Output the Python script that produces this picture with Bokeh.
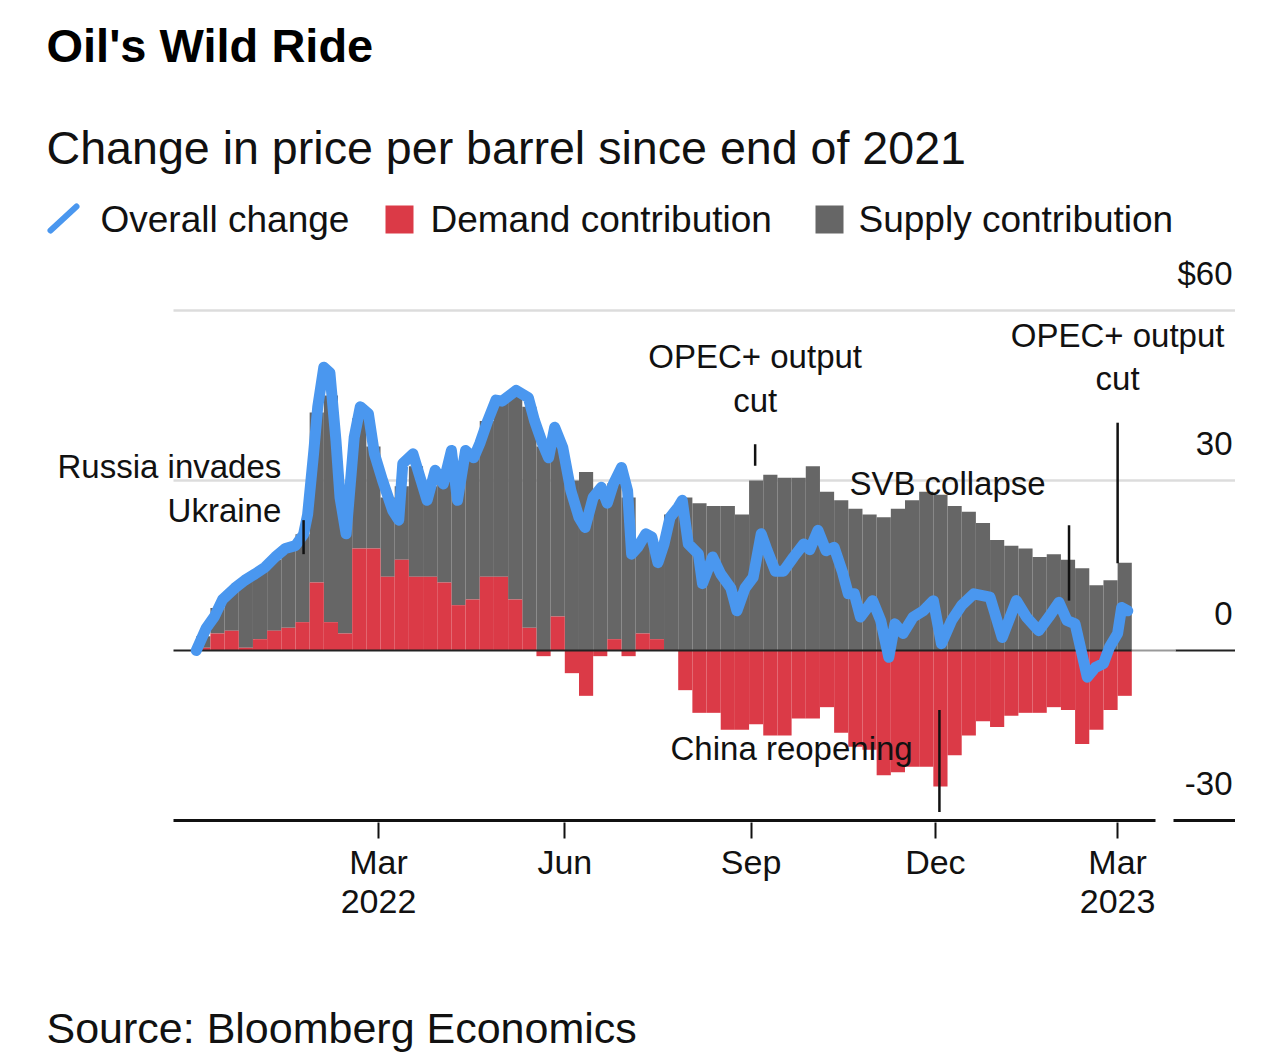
import pandas as pd
from bokeh.plotting import figure
from bokeh.layouts import column
from bokeh.models import Range1d, Label, LinearAxis, FixedTicker, ColumnDataSource
from bokeh.core.properties import value
from bokeh.embed import file_html
from bokeh.resources import INLINE

# ---------------- data ----------------
line_dates = [
    "2021-12-01", "2021-12-06", "2021-12-10", "2021-12-14", "2021-12-20", "2021-12-25",
    "2021-12-30", "2022-01-04", "2022-01-09", "2022-01-14", "2022-01-19", "2022-01-23",
    "2022-01-25", "2022-01-28", "2022-01-30", "2022-02-02", "2022-02-05", "2022-02-08",
    "2022-02-10", "2022-02-13", "2022-02-17", "2022-02-20", "2022-02-24", "2022-02-27",
    "2022-03-03", "2022-03-08", "2022-03-11", "2022-03-13", "2022-03-18", "2022-03-22",
    "2022-03-25", "2022-03-29", "2022-04-02", "2022-04-06", "2022-04-09", "2022-04-13",
    "2022-04-17", "2022-04-20", "2022-04-24", "2022-04-28", "2022-05-01", "2022-05-08",
    "2022-05-14", "2022-05-17", "2022-05-21", "2022-05-24", "2022-05-27", "2022-05-31",
    "2022-06-04", "2022-06-08", "2022-06-11", "2022-06-15", "2022-06-19", "2022-06-22",
    "2022-06-25", "2022-06-29", "2022-07-02", "2022-07-04", "2022-07-07", "2022-07-11",
    "2022-07-14", "2022-07-17", "2022-07-20", "2022-07-23", "2022-07-27", "2022-07-29",
    "2022-08-01", "2022-08-06", "2022-08-08", "2022-08-13", "2022-08-17", "2022-08-22",
    "2022-08-25", "2022-08-29", "2022-09-02", "2022-09-06", "2022-09-09", "2022-09-13",
    "2022-09-17", "2022-09-22", "2022-09-27", "2022-09-30", "2022-10-04", "2022-10-08",
    "2022-10-12", "2022-10-16", "2022-10-19", "2022-10-22", "2022-10-25", "2022-10-31",
    "2022-11-04", "2022-11-08", "2022-11-11", "2022-11-15", "2022-11-20", "2022-11-25",
    "2022-11-30", "2022-12-04", "2022-12-09", "2022-12-14", "2022-12-20", "2022-12-28",
    "2023-01-03", "2023-01-10", "2023-01-15", "2023-01-21", "2023-01-26", "2023-01-31",
    "2023-02-04", "2023-02-08", "2023-02-14", "2023-02-18", "2023-02-22", "2023-02-25",
    "2023-03-01", "2023-03-03", "2023-03-06",
]
overall = [
    0, 4, 6, 9, 11, 12.4,
    13.5, 14.7, 16.5, 18, 18.5, 20.5,
    24, 35, 43, 50, 49, 37,
    27, 20.6, 37.6, 43, 41.8, 34.7,
    30, 24.7, 23, 33, 34.7, 30,
    26.5, 31.8, 29.4, 35.3, 26.5, 35.3,
    34, 36.5, 40.6, 44.2, 44, 45.9,
    44.6, 40.6, 36.5, 34, 39.4, 35.8,
    28.2, 23.5, 21.7, 27, 28.8, 26,
    29.4, 32.3, 28.2, 17, 18.2, 20.6,
    20, 15.5, 18.8, 23.5, 25.3, 26.5,
    18.8, 17, 11.8, 16.5, 13.5, 11,
    7, 11, 12.9, 20.6, 17.6, 14,
    14, 16.5, 18.8, 17.8, 21.2, 17.6,
    18.2, 14, 10, 10, 5.9, 8.8,
    5.3, -1.2, 4.7, 3, 5.9, 7,
    8.8, 1.2, 5.3, 8, 10, 9.4,
    2.3, 8.8, 5.9, 3.5, 5.9, 8.5,
    5.3, 4.7, -4.7, -3, -2.3, 0.6,
    3, 7.6, 7,
]

# weekly contributions, one value per week starting 2021-12-01
bar_weeks = pd.date_range("2021-12-01", periods=66, freq="7D")
demand = [
    0.5, 3, 3.5, 0.5, 2, 3.5, 4, 5, 12, 5,
    3, 18, 18, 13, 16, 13, 13, 12, 8, 9,
    13, 13, 9, 4, -1, 6, -4, -8, -1, 2,
    -1, 3, 2, 0, -7, -11, -11, -14, -14, -13,
    -15, -15, -12, -12, -10, -14.5, -17, -17.5, -22, -21.5,
    -20.5, -20.5, -24, -18.5, -15, -12.5, -13.5, -11.5, -11, -11,
    -10, -10.5, -16.5, -14, -10.5, -8,
]
supply = [
    2, 4.5, 7, 12, 12, 12.5, 14, 15.5, 30, 40,
    24, 23, 18, 14, 13, 19.5, 16, 20, 22.5, 26,
    27.5, 31, 36.5, 39, 36, 31.5, 30, 31.5, 28.5, 27.5,
    27, 16.5, 16, 24, 27, 26, 25.5, 25.5, 24, 30,
    31, 30.5, 30.5, 32.5, 28, 26.5, 25, 24, 23.5, 25,
    26.5, 28, 27.5, 25.5, 24.5, 22.5, 19.5, 18.5, 18, 16.5,
    17, 16, 14.5, 11.5, 12.4, 15.5,
]

x_tick_dates = ["2022-03-01", "2022-06-01", "2022-09-01", "2022-12-01", "2023-03-01"]
x_tick_labels = ["Mar\n2022", "Jun", "Sep", "Dec", "Mar\n2023"]
y_ticks = [60, 30, 0, -30]
y_tick_labels = ["$60", "30", "0", "-30"]

# event annotations: marker date, marker bottom/top, text lines
event_marker_dates = ["2022-01-23", "2022-09-03", "2023-02-05", "2022-12-03", "2023-03-01"]
event_marker_lo = [17, 32.6, 8.8, -28.5, 15.4]
event_marker_hi = [23, 36.4, 22.1, -10.5, 40.2]
event_text_dates = ["2022-01-12", "2022-09-03", "2022-12-07", "2022-09-21", "2023-03-01"]
event_text_align = ["right", "center", "center", "center", "center"]
event_lines = [["Russia invades", "Ukraine"], ["OPEC+ output", "cut"], ["SVB collapse"],
               ["China reopening"], ["OPEC+ output", "cut"]]
event_line_y = [[32.5, 24.7], [51.9, 44.1], [29.5], [-17.3], [55.6, 48.0]]

source_text = "Source: Bloomberg Economics"

# ---------------- styling / geometry ----------------
FONT = "Liberation Sans"
BLUE, RED, GRAY = "#4a97ef", "#db3a47", "#666666"
W = 1235
H_MAIN, H_FOOT = 960, 99
FRAME_BOTTOM = 822
X0_PX, PX_PER_DAY = 378, 2.025
Y0_PX, PX_PER_UNIT = 650, 170 / 30
ANCHOR = pd.Timestamp("2022-03-01")


def ms(t):
    return pd.Timestamp(t).value / 1e6


def X(px):
    return ms(ANCHOR + pd.Timedelta(days=(px - X0_PX) / PX_PER_DAY))


def Y(py):
    return (Y0_PX - py) / PX_PER_UNIT


p = figure(width=W, height=H_MAIN,
           x_range=Range1d(X(0), X(W)), y_range=Range1d(Y(FRAME_BOTTOM), Y(0)),
           x_axis_type=None, y_axis_type=None, toolbar_location=None,
           output_backend="svg", min_border_left=0, min_border_right=0,
           min_border_top=0, min_border_bottom=H_MAIN - FRAME_BOTTOM)
p.outline_line_color = None
p.background_fill_color = "white"
p.border_fill_color = "white"

tick_ms = [ms(d) for d in x_tick_dates]
xaxis = LinearAxis(ticker=FixedTicker(ticks=tick_ms),
                   major_label_overrides={t: l for t, l in zip(tick_ms, x_tick_labels)})
xaxis.axis_line_color = None
xaxis.major_tick_line_color = "#111111"
xaxis.major_tick_line_width = 2
xaxis.major_tick_in = 0
xaxis.major_tick_out = 16
xaxis.minor_tick_line_color = None
xaxis.major_label_text_font = FONT
xaxis.major_label_text_font_size = "34px"
xaxis.major_label_text_color = "#111111"
xaxis.major_label_text_line_height = 1.04
xaxis.major_label_standoff = 4
p.add_layout(xaxis, "below")

# gridlines (60, 30)
p.segment(x0=[X(173)] * 2, x1=[X(1235)] * 2, y0=y_ticks[:2], y1=y_ticks[:2],
          line_color="#dcdcdc", line_width=2.5)

# stacked weekly bars
bar_left = [ms(d) for d in bar_weeks]
bar_right = [ms(d + pd.Timedelta(days=7)) for d in bar_weeks]
gray_bottom = [max(d, 0) for d in demand]
gray_top = [b + s for b, s in zip(gray_bottom, supply)]
src = ColumnDataSource(dict(left=bar_left, right=bar_right, d=demand,
                            gb=gray_bottom, gt=gray_top, zero=[0] * len(demand)))
p.quad(left="left", right="right", bottom="gb", top="gt", source=src,
       fill_color=GRAY, line_color=None)
p.quad(left="left", right="right", bottom="zero", top="d", source=src,
       fill_color=RED, line_color=None)

# zero line and bottom axis line
bar_end = bar_right[-1]
p.segment(x0=[X(173), X(1175)], x1=[bar_end, X(1235)], y0=[0, 0], y1=[0, 0],
          line_color="#222222", line_width=2)
p.segment(x0=[bar_end], x1=[X(1175)], y0=[0], y1=[0], line_color="#999999", line_width=2)
p.segment(x0=[X(173), X(1173)], x1=[X(1155), X(1235)], y0=[-30, -30], y1=[-30, -30],
          line_color="#111111", line_width=3)

# overall change line
p.line(x=[ms(d) for d in line_dates], y=overall, line_color=BLUE, line_width=11,
       line_join="round", line_cap="round")

# event markers
p.segment(x0=[ms(d) for d in event_marker_dates], x1=[ms(d) for d in event_marker_dates],
          y0=event_marker_lo, y1=event_marker_hi, line_color="#111111", line_width=2.5)

for d, al, lines, ys in zip(event_text_dates, event_text_align, event_lines, event_line_y):
    for txt, yy in zip(lines, ys):
        p.add_layout(Label(x=ms(d), y=yy, text=txt, text_font=FONT, text_font_size="33px",
                           text_align=al, text_baseline="middle", text_color="#111111"))

# right-side value labels, right-aligned at the picture's right edge
gap = 37 / PX_PER_UNIT
for v, t in zip(y_ticks, y_tick_labels):
    p.add_layout(Label(x=X(1232), y=v + gap, text=t, text_font=FONT, text_font_size="33px",
                       text_align="right", text_baseline="alphabetic", text_color="#111111"))

# titles
p.add_layout(Label(x=X(46), y=Y(45), text="Oil's Wild Ride", text_font=FONT,
                   text_font_size="47px", text_font_style="bold", text_baseline="middle",
                   text_color="#000000"))
p.add_layout(Label(x=X(46), y=Y(147), text="Change in price per barrel since end of 2021",
                   text_font=FONT, text_font_size="46.6px", text_baseline="middle",
                   text_color="#111111"))

# legend
p.segment(x0=[X(50)], y0=[Y(230)], x1=[X(76)], y1=[Y(206)], line_color=BLUE,
          line_width=6, line_cap="round")
p.scatter(x=[X(399), X(829)], y=[Y(219), Y(219)], marker="square", size=28,
          fill_color=[RED, GRAY], line_color=None)
for px, t in [(100, "Overall change"), (430, "Demand contribution"), (858, "Supply contribution")]:
    p.add_layout(Label(x=X(px), y=Y(219), text=t, text_font=FONT, text_font_size="37px",
                       text_baseline="middle", text_color="#111111"))

# footer with the source note (page pixels used as coordinates)
foot = figure(width=W, height=H_FOOT, x_range=Range1d(0, W),
              y_range=Range1d(H_MAIN + H_FOOT, H_MAIN),
              x_axis_type=None, y_axis_type=None, toolbar_location=None,
              output_backend="svg", min_border=0)
foot.outline_line_color = None
foot.text(x=[46], y=[1027], text=[source_text], text_font=value(FONT),
          text_font_size="43px", text_baseline="middle", text_color="#111111")

layout = column(p, foot, spacing=0)
open("out.html", "w").write(file_html(layout, INLINE))
